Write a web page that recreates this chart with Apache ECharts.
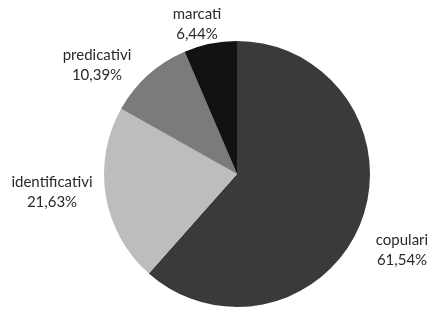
<!DOCTYPE html>
<html>
<head>
<meta charset="utf-8">
<script src="https://cdn.jsdelivr.net/npm/echarts@6/dist/echarts.min.js"></script>
<style>
    html, body { margin: 0; padding: 0; background: #fff; }
    #chart { width: 431px; height: 310px; }
</style>
</head>
<body>
<div id="chart"></div>
<script>
// dati del grafico
var categories = ['copulari', 'identificativi', 'predicativi', 'marcati'];
var values = [61.54, 21.63, 10.39, 6.44];
var colors = ['#3a3a3a', '#bdbdbd', '#7b7b7b', '#121212'];

// posizione delle etichette (centro del testo)
var labelPos = [[402, 250], [52, 192], [97, 65], [197, 24]];

var pieData = categories.map(function (name, i) {
    return { name: name, value: values[i], itemStyle: { color: colors[i] } };
});

var myChart = echarts.init(document.getElementById('chart'));
myChart.setOption({
    animation: false,
    series: [{
        type: 'pie',
        center: [237, 174],
        radius: 133,
        startAngle: 90,
        clockwise: true,
        data: pieData,
        itemStyle: { borderWidth: 0 },
        emphasis: { disabled: true },
        label: {
            show: true,
            position: 'outside',
            overflow: 'none',
            fontFamily: 'Lato',
            fontSize: 15,
            lineHeight: 20,
            color: '#2a2a2a',
            formatter: function (p) {
                return p.name + '\n' + p.value.toFixed(2).replace('.', ',') + '%';
            }
        },
        labelLine: { show: false },
        labelLayout: function (params) {
            var pos = labelPos[params.dataIndex];
            return { x: pos[0], y: pos[1], align: 'center', verticalAlign: 'middle' };
        }
    }]
});
</script>
</body>
</html>
